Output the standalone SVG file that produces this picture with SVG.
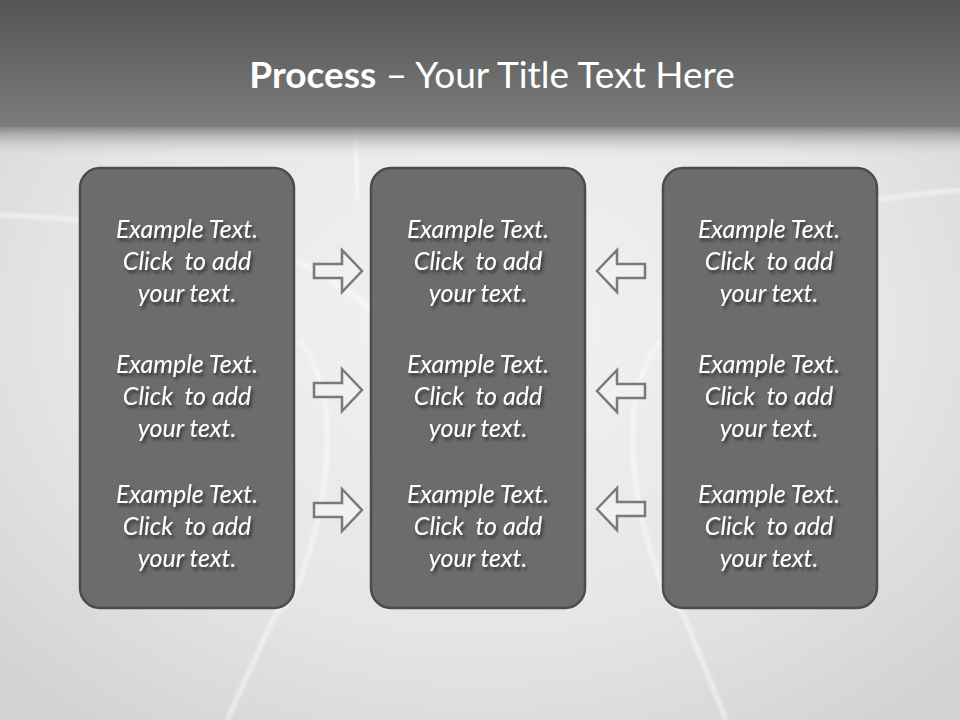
<svg xmlns="http://www.w3.org/2000/svg" width="960" height="720" viewBox="0 0 960 720">
<defs>
<linearGradient id="top" x1="0" y1="0" x2="0" y2="1">
<stop offset="0" stop-color="#535554"/>
<stop offset="1" stop-color="#7b7c7b"/>
</linearGradient>
<linearGradient id="fade" x1="0" y1="0" x2="0" y2="1">
<stop offset="0" stop-color="#888988"/>
<stop offset="1" stop-color="#d9dad9" stop-opacity="0"/>
</linearGradient>
<radialGradient id="bg" cx="0.5" cy="0.45" r="0.7">
<stop offset="0" stop-color="#f3f3f3"/>
<stop offset="0.6" stop-color="#e6e6e6"/>
<stop offset="1" stop-color="#d2d2d2"/>
</radialGradient>
<filter id="ts" x="-20%" y="-40%" width="140%" height="180%">
<feDropShadow dx="2" dy="3" stdDeviation="1.6" flood-color="#2a2a2a" flood-opacity="0.85"/>
</filter>
<filter id="bl"><feGaussianBlur stdDeviation="1.5"/></filter>
<path id="ra" d="M0,-7 L28,-7 L28,-21 L48,0 L28,21 L28,7 L0,7 Z"/>
</defs>
<style>
.box{fill:#6b6c6b;stroke:#4b4c4b;stroke-width:2.5}
.t{font-family:Lato,"Liberation Sans",sans-serif;font-style:italic;font-size:25px;fill:#ffffff;text-anchor:middle;white-space:pre}
.arr{fill:#f1f1f1;stroke:#7a7a7a;stroke-width:2.5;stroke-linejoin:miter}
.curve{fill:none;stroke:#ffffff;stroke-opacity:0.45;stroke-width:5;filter:url(#bl)}
</style>
<rect x="0" y="0" width="960" height="720" fill="url(#bg)"/>
<g id="decor">
<path class="curve" d="M0,215 C120,220 230,235 300,262 C330,280 360,300 372,310"/>
<path class="curve" d="M960,190 C900,195 840,205 790,215"/>
<path class="curve" d="M300,340 C330,380 335,440 318,520 C305,570 296,600 276,613 L227,720"/>
<path class="curve" d="M660,340 C630,380 625,440 642,520 C655,570 664,600 683,613 L726,720"/>
<path class="curve" d="M355,130 L358,200" stroke-opacity="0.3"/>
</g>
<rect x="0" y="0" width="960" height="128" fill="url(#top)"/>
<rect x="0" y="127" width="960" height="30" fill="url(#fade)"/>
<text x="492" y="88" font-family="Lato,'Liberation Sans',sans-serif" font-size="37" fill="#ffffff" text-anchor="middle"><tspan font-weight="bold">Process</tspan> – Your Title Text Here</text>
<g id="node-left">
<rect class="box" x="80" y="168" width="214" height="440" rx="20"/>
<g filter="url(#ts)">
<text class="t" x="187" y="238">Example Text.</text>
<text class="t" x="187" y="270">Click  to add</text>
<text class="t" x="187" y="302">your text.</text>
<text class="t" x="187" y="373">Example Text.</text>
<text class="t" x="187" y="405">Click  to add</text>
<text class="t" x="187" y="437">your text.</text>
<text class="t" x="187" y="503">Example Text.</text>
<text class="t" x="187" y="535">Click  to add</text>
<text class="t" x="187" y="567">your text.</text>
</g>
</g>
<g id="node-middle">
<rect class="box" x="371" y="168" width="214" height="440" rx="20"/>
<g filter="url(#ts)">
<text class="t" x="478" y="238">Example Text.</text>
<text class="t" x="478" y="270">Click  to add</text>
<text class="t" x="478" y="302">your text.</text>
<text class="t" x="478" y="373">Example Text.</text>
<text class="t" x="478" y="405">Click  to add</text>
<text class="t" x="478" y="437">your text.</text>
<text class="t" x="478" y="503">Example Text.</text>
<text class="t" x="478" y="535">Click  to add</text>
<text class="t" x="478" y="567">your text.</text>
</g>
</g>
<g id="node-right">
<rect class="box" x="663" y="168" width="214" height="440" rx="20"/>
<g filter="url(#ts)">
<text class="t" x="769" y="238">Example Text.</text>
<text class="t" x="769" y="270">Click  to add</text>
<text class="t" x="769" y="302">your text.</text>
<text class="t" x="769" y="373">Example Text.</text>
<text class="t" x="769" y="405">Click  to add</text>
<text class="t" x="769" y="437">your text.</text>
<text class="t" x="769" y="503">Example Text.</text>
<text class="t" x="769" y="535">Click  to add</text>
<text class="t" x="769" y="567">your text.</text>
</g>
</g>
<g id="connectors">
<use href="#ra" class="arr" transform="translate(314,271)"/>
<use href="#ra" class="arr" transform="translate(314,390)"/>
<use href="#ra" class="arr" transform="translate(314,510)"/>
<use href="#ra" class="arr" transform="translate(645,271) scale(-1,1)"/>
<use href="#ra" class="arr" transform="translate(645,391) scale(-1,1)"/>
<use href="#ra" class="arr" transform="translate(645,509) scale(-1,1)"/>
</g>
</svg>
